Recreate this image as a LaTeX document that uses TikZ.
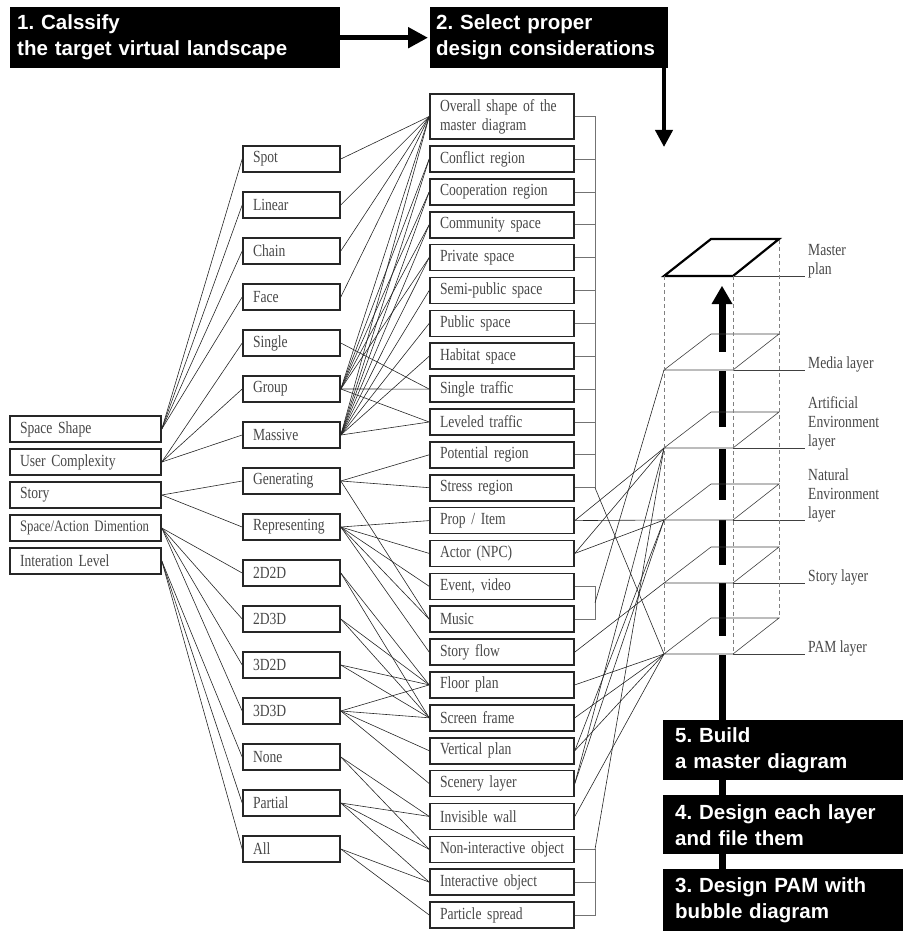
\documentclass[tikz,border=0pt]{standalone}
\usepackage{fontspec}
\setmainfont{Liberation Serif}[FakeStretch=0.8]
\newfontfamily\stepfont{Liberation Sans}
\usetikzlibrary{arrows.meta}
\usetikzlibrary{calc}
\hyphenpenalty=10000
\exhyphenpenalty=10000
\frenchspacing
\tikzset{catbox/.style = {draw=black!85, line width=1.6pt, text=black!72, minimum height=26pt,
                          inner xsep=10pt, inner ysep=2pt, align=left,
                          font=\fontsize{17}{19}\selectfont}}
\tikzset{leftbox/.style = {catbox, text width=131pt}}
\tikzset{midbox/.style = {catbox, text width=77pt}}
\tikzset{itembox/.style = {catbox, text width=124pt}}
\tikzset{stepbox/.style = {fill=black, text=white, anchor=north west, inner ysep=0pt, align=left,
                           font=\stepfont\bfseries\fontsize{20.5}{26}\selectfont}}
\tikzset{link/.style = {draw=black!85, line width=0.6pt}}
\tikzset{bracket/.style = {draw=black!55, line width=0.7pt}}
\tikzset{layer/.style = {draw=black!75, line width=0.6pt}}
\tikzset{guide/.style = {draw=black!50, line width=0.6pt, dash pattern=on 4pt off 3pt}}
\tikzset{layerlabel/.style = {anchor=south west, inner sep=0pt, align=left, text=black!72,
                              font=\fontsize{17}{19}\selectfont}}

\begin{document}
\begin{tikzpicture}[x=1pt, y=-1pt]
  \useasboundingbox (0,0) rectangle (903,931);

  % steps
  \node [stepbox, minimum width=330pt, minimum height=61pt, inner xsep=7pt, text width=316pt]
        (step1) at (10,7) {1. Calssify\\the target virtual landscape};
  \node [stepbox, minimum width=238pt, minimum height=61pt, inner xsep=6pt, text width=226pt]
        (step2) at (430,7) {2. Select proper\\design considerations};
  \draw [line width=5pt, -{Triangle[length=20pt, width=20pt]}, shorten >=2pt] (step1.east) -- (step2.west);
  \coordinate (turn) at (664,147);
  \draw [line width=4pt, -{Triangle[length=17pt, width=17pt]}] (step2.south east -| turn) -- (turn);

  % classification
  \node [leftbox] (shape) at (85.5,429) {Space Shape};
  \node [leftbox] (users) at (85.5,462) {User Complexity};
  \node [leftbox] (story) at (85.5,495) {Story};
  \node [leftbox, font=\fontsize{16}{19}\selectfont] (dims) at (85.5,528) {\mbox{Space/Action Dimention}};
  \node [leftbox] (interact) at (85.5,561) {Interation Level};

  \node [midbox] (spot) at (291.5,159) {Spot};
  \node [midbox] (linear) at (291.5,205) {Linear};
  \node [midbox] (chain) at (291.5,251) {Chain};
  \node [midbox] (face) at (291.5,297) {Face};
  \node [midbox] (single) at (291.5,343) {Single};
  \node [midbox] (group) at (291.5,389) {Group};
  \node [midbox] (massive) at (291.5,435) {Massive};
  \node [midbox] (gen) at (291.5,481) {Generating};
  \node [midbox] (repr) at (291.5,527) {Representing};
  \node [midbox] (d22) at (291.5,573) {2D2D};
  \node [midbox] (d23) at (291.5,619) {2D3D};
  \node [midbox] (d32) at (291.5,665) {3D2D};
  \node [midbox] (d33) at (291.5,711) {3D3D};
  \node [midbox] (none) at (291.5,757) {None};
  \node [midbox] (partial) at (291.5,803) {Partial};
  \node [midbox] (all) at (291.5,849) {All};

  % design considerations
  \node [itembox, minimum height=45pt] (overall) at (502,116.5) {Overall shape of the\\master diagram};
  \node [itembox] (conflict) at (502,159) {Conflict region};
  \node [itembox] (coop) at (502,191.9) {Cooperation region};
  \node [itembox] (community) at (502,224.7) {Community space};
  \node [itembox] (private) at (502,257.6) {Private space};
  \node [itembox] (semipub) at (502,290.5) {Semi-public space};
  \node [itembox] (public) at (502,323.4) {Public space};
  \node [itembox] (habitat) at (502,356.2) {Habitat space};
  \node [itembox] (straffic) at (502,389.1) {Single traffic};
  \node [itembox] (ltraffic) at (502,422) {Leveled traffic};
  \node [itembox] (potential) at (502,454.8) {Potential region};
  \node [itembox] (stress) at (502,487.7) {Stress region};
  \node [itembox] (prop) at (502,520.6) {Prop / Item};
  \node [itembox] (actor) at (502,553.4) {Actor (NPC)};
  \node [itembox] (event) at (502,586.3) {Event, video};
  \node [itembox] (music) at (502,619.2) {Music};
  \node [itembox] (sflow) at (502,652.1) {Story flow};
  \node [itembox] (floor) at (502,684.9) {Floor plan};
  \node [itembox] (screen) at (502,717.8) {Screen frame};
  \node [itembox] (vplan) at (502,750.7) {Vertical plan};
  \node [itembox] (scenery) at (502,783.5) {Scenery layer};
  \node [itembox] (invis) at (502,816.4) {Invisible wall};
  \node [itembox] (nonint) at (502,849.3) {\mbox{Non-interactive object}};
  \node [itembox] (inter) at (502,882.1) {Interactive object};
  \node [itembox] (particle) at (502,915) {Particle spread};

  % classification links
  \foreach \b in {spot, linear, chain, face} \draw [link] (shape.east) -- (\b.west);
  \foreach \b in {single, group, massive} \draw [link] (users.east) -- (\b.west);
  \foreach \b in {gen, repr} \draw [link] (story.east) -- (\b.west);
  \foreach \b in {d22, d23, d32, d33} \draw [link] (dims.east) -- (\b.west);
  \foreach \b in {none, partial, all} \draw [link] (interact.east) -- (\b.west);

  % consideration links
  \foreach \a in {spot, linear, chain, face} \draw [link] (\a.east) -- (overall.west);
  \foreach \b in {overall, conflict, coop, community, private, straffic, ltraffic}
    \draw [link] (group.east) -- (\b.west);
  \foreach \b in {overall, conflict, coop, community, private, semipub, public, habitat, ltraffic}
    \draw [link] (massive.east) -- (\b.west);
  \draw [link] (single.east) -- (straffic.west);
  \foreach \b in {potential, stress, music} \draw [link] (gen.east) -- (\b.west);
  \foreach \b in {prop, actor, event, music, sflow} \draw [link] (repr.east) -- (\b.west);
  \foreach \a in {d22, d23, d32} {
    \draw [link] (\a.east) -- (floor.west);
    \draw [link] (\a.east) -- (screen.west);
  }
  \foreach \b in {floor, screen, vplan, scenery} \draw [link] (d33.east) -- (\b.west);
  \foreach \b in {invis, nonint} \draw [link] (none.east) -- (\b.west);
  \foreach \b in {invis, nonint, inter} \draw [link] (partial.east) -- (\b.west);
  \foreach \b in {inter, particle} \draw [link] (all.east) -- (\b.west);

  % layers
  \fill (718.5,655) rectangle (725.5,869);
  \fill (718.5,583) rectangle (725.5,636);
  \fill (718.5,520) rectangle (725.5,565);
  \fill (718.5,449) rectangle (725.5,500);
  \fill (718.5,371) rectangle (725.5,427);
  \fill (718.5,300) rectangle (725.5,352);
  \fill (711.5,304) -- (722,286) -- (732.5,304) -- cycle;

  \coordinate (master) at (664,276);
  \draw [line width=2.2pt] (master) -- ++(47,-37) -- ++(68,0) -- ++(-46,37) -- cycle;
  \draw [layer] (master) ++(69,0) -- ++(72,0);
  \foreach \f/\n in {370/media, 448/artif, 520/natural, 583/storyl, 654/pam} {
    \coordinate (\n) at (664,\f);
    \draw [layer] (\n) -- ++(47,-36) -- ++(68,0) -- ++(-46,36) -- cycle;
    \draw [layer] (\n) ++(69,0) -- ++(72,0);
  }
  \draw [guide] (master) -- (pam);
  \draw [guide] ($(master)+(69,0)$) -- ($(pam)+(69,0)$);
  \draw [guide] (779,240) -- (779,618);

  \node [layerlabel] (lmaster) at (808,278.5) {Master\\plan};
  \node [layerlabel] (lmedia) at (808,372.5) {Media layer};
  \node [layerlabel] (lartif) at (808,450.5) {Artificial\\Environment\\layer};
  \node [layerlabel] (lnatural) at (808,522.5) {Natural\\Environment\\layer};
  \node [layerlabel] (lstory) at (808,585.5) {Story layer};
  \node [layerlabel] (lpam) at (808,656.5) {PAM layer};

  % brackets
  \coordinate (brx) at (595,0);
  \foreach \b in {overall, conflict, coop, community, private, semipub, public, habitat,
                  straffic, ltraffic, potential, stress}
    \draw [bracket] (\b.east) -- (\b.east -| brx);
  \draw [bracket] (overall.east -| brx) -- (stress.east -| brx);
  \draw [link] (stress.east -| brx) -- (pam);
  \draw [bracket] (event.east) -- (event.east -| brx) -- (music.east -| brx) -- (music.east);
  \coordinate (brB) at ($(event.east -| brx)!0.5!(music.east -| brx)$);
  \draw [link] (brB) -- (media);
  \draw [bracket] (nonint.east) -- (nonint.east -| brx) -- (particle.east -| brx) -- (particle.east);
  \draw [bracket] (inter.east) -- (inter.east -| brx);
  \draw [link] (nonint.east -| brx) -- (artif);

  % layer links
  \foreach \b in {natural, artif} \draw [link] (prop.east) -- (\b);
  \foreach \b in {natural, artif} \draw [link] (actor.east) -- (\b);
  \draw [link] (sflow.east) -- (storyl);
  \draw [link] (floor.east) -- (pam);
  \draw [link] (screen.east) -- (pam);
  \foreach \b in {pam, natural} \draw [link] (vplan.east) -- (\b);
  \foreach \b in {artif, natural} \draw [link] (scenery.east) -- (\b);
  \draw [link] (invis.east) -- (pam);

  % building steps
  \node [stepbox, minimum width=240pt, minimum height=60pt, inner xsep=12pt, text width=216pt]
        (step5) at (663,720) {5. Build\\a master diagram};
  \node [stepbox, minimum width=240pt, minimum height=59pt, inner xsep=12pt, text width=216pt]
        (step4) at (663,795) {4. Design each layer\\and file them};
  \node [stepbox, minimum width=240pt, minimum height=62pt, inner xsep=12pt, text width=216pt]
        (step3) at (663,869) {3. Design PAM with\\bubble diagram};
\end{tikzpicture}
\end{document}
